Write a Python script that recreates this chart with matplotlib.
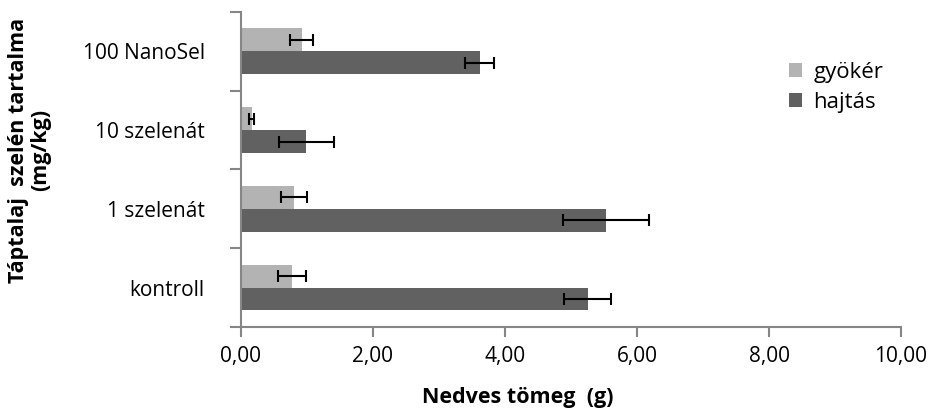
import numpy as np
import matplotlib.pyplot as plt

# data
categories = ['kontroll', '1 szelenát', '10 szelenát', '100 NanoSel']
gyoker = [0.77, 0.80, 0.16, 0.92]
gyoker_err = [0.21, 0.20, 0.035, 0.17]
hajtas = [5.25, 5.53, 0.99, 3.62]
hajtas_err = [0.35, 0.65, 0.42, 0.22]
xticks = [0, 2, 4, 6, 8, 10]
xlabels = ['0,00', '2,00', '4,00', '6,00', '8,00', '10,00']

plt.rcParams['font.family'] = ['Open Sans', 'DejaVu Sans']

fig = plt.figure(figsize=(9.34, 4.12), dpi=100)
ax = fig.add_axes([0.258, 0.2063, 0.7067, 0.7647])

y = np.arange(len(categories))
h = 0.29
axis_col = '#868686'
err_kw = dict(ecolor='black', elinewidth=1.5, capsize=4, capthick=1.5)

ax.barh(y + h / 2, gyoker, height=h, color='#b3b3b3', label='gyökér',
        xerr=gyoker_err, error_kw=err_kw)
ax.barh(y - h / 2, hajtas, height=h, color='#616161', label='hajtás',
        xerr=hajtas_err, error_kw=err_kw)

ax.set_xlim(0, 10)
ax.set_ylim(-0.5, len(categories) - 0.5)
ax.set_xticks(xticks)
ax.set_xticklabels(xlabels, fontsize=15)
ax.set_yticks(y)
ax.set_yticklabels(categories, fontsize=15, va='center_baseline')
ax.set_yticks(np.arange(-0.5, len(categories)), minor=True)
ax.tick_params(axis='y', which='major', length=0, pad=26)
ax.tick_params(axis='y', which='minor', length=8, width=1.5, color=axis_col)
ax.tick_params(axis='x', length=7, width=1.5, color=axis_col, pad=7)

for s in ['top', 'right']:
    ax.spines[s].set_visible(False)
for s in ['left', 'bottom']:
    ax.spines[s].set_color(axis_col)
    ax.spines[s].set_linewidth(1.5)

fig.text(0.554, 0.034, 'Nedves tömeg  (g)', ha='center', va='center',
         fontsize=15.5, fontweight='bold')
fig.text(0.032, 0.636, 'Táptalaj  szelén tartalma\n(mg/kg)', rotation=90,
         ha='center', va='center', fontsize=15.5, fontweight='bold',
         linespacing=1.05)

ax.legend(loc='upper left', bbox_to_anchor=(0.80, 0.905), frameon=False,
          fontsize=16, handlelength=0.6, handleheight=0.6, handletextpad=0.5,
          labelspacing=0.4)

fig.savefig('out.png', dpi=100)
